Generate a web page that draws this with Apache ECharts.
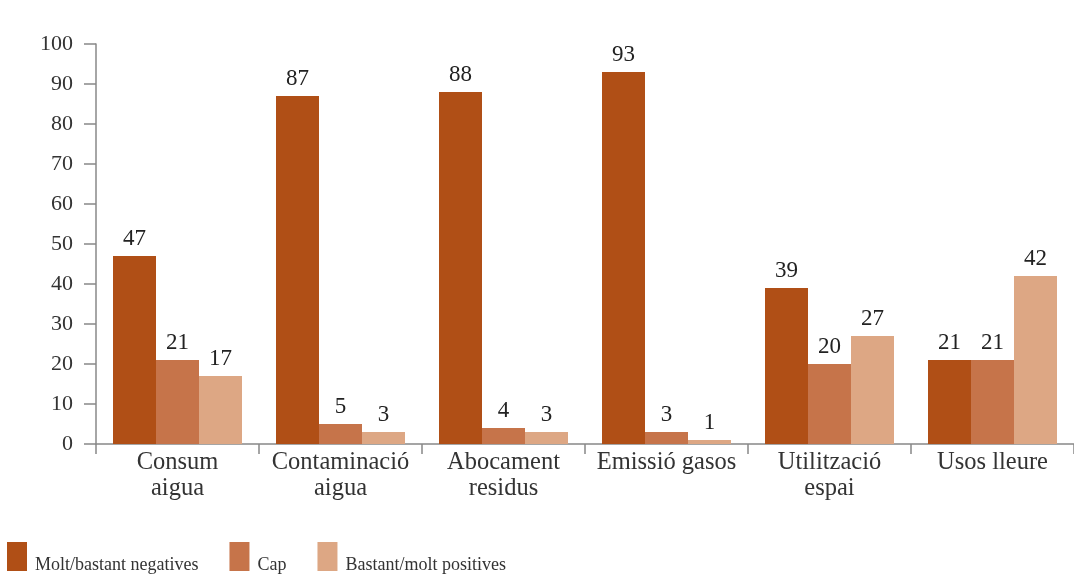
<!DOCTYPE html>
<html>
<head>
<meta charset="utf-8">
<script src="https://cdn.jsdelivr.net/npm/echarts@6/dist/echarts.min.js"></script>
<style>
html,body{margin:0;padding:0;background:#fff;}
#chart{width:1074px;height:574px;}
</style>
</head>
<body>
<div id="chart"></div>
<script>
const categories = ["Consum\naigua", "Contaminació\naigua", "Abocament\nresidus", "Emissió gasos", "Utilització\nespai", "Usos lleure"];
const seriesNames = ["Molt/bastant negatives", "Cap", "Bastant/molt positives"];
const negatives = [47, 87, 88, 93, 39, 21];
const cap = [21, 5, 4, 3, 20, 21];
const positives = [17, 3, 3, 1, 27, 42];
const yTicks = [0, 10, 20, 30, 40, 50, 60, 70, 80, 90, 100];

const colors = ["#B04F16", "#C6744A", "#DDA784"];
const font = "'Liberation Serif', 'DejaVu Serif', serif";

const chart = echarts.init(document.getElementById('chart'));
const values = [negatives, cap, positives];
chart.setOption({
  animation: false,
  backgroundColor: '#fff',
  textStyle: { fontFamily: font },
  grid: { left: 96, top: 44, bottom: 130, width: 986 },
  legend: {
    left: 7, top: 542,
    padding: 0,
    icon: 'rect',
    itemWidth: 20, itemHeight: 29,
    itemGap: 31,
    formatter: '{t|{name}}',
    textStyle: {
      fontFamily: font, fontSize: 18, color: '#333',
      rich: { t: { fontFamily: font, fontSize: 18, color: '#333', padding: [18, 0, 0, 3] } }
    },
    data: seriesNames
  },
  xAxis: {
    type: 'category',
    data: categories,
    axisLine: { lineStyle: { color: '#888', width: 1.5 } },
    axisTick: { show: true, length: 10, alignWithLabel: false, lineStyle: { color: '#888', width: 1.5 } },
    axisLabel: { fontFamily: font, fontSize: 24.5, color: '#333', margin: 6, lineHeight: 26, interval: 0 }
  },
  yAxis: {
    type: 'value',
    min: yTicks[0], max: yTicks[yTicks.length - 1], interval: 10,
    axisLine: { show: true, lineStyle: { color: '#888', width: 1.5 } },
    axisTick: { show: true, length: 12, lineStyle: { color: '#888', width: 1.5 } },
    splitLine: { show: false },
    axisLabel: { fontFamily: font, fontSize: 22, color: '#333', margin: 23 }
  },
  series: seriesNames.map((name, i) => ({
    name: name,
    type: 'bar',
    data: values[i],
    barWidth: 43,
    barGap: '0%',
    itemStyle: { color: colors[i] },
    label: { show: true, position: 'top', distance: 6, fontFamily: font, fontSize: 23, color: '#222' }
  }))
});
</script>
</body>
</html>
